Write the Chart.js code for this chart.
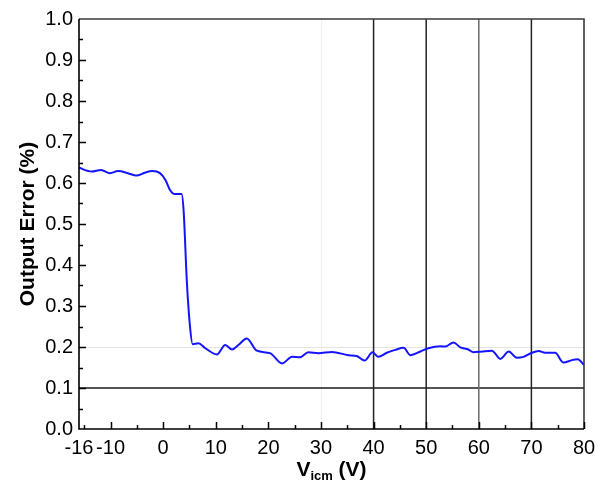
<!DOCTYPE html>
<html>
<head>
<meta charset="utf-8">
<script src="https://cdn.jsdelivr.net/npm/chart.js@4.4.0/dist/chart.umd.min.js"></script>
<style>
    html, body { margin: 0; padding: 0; background: #fff; }
    #wrap { width: 607px; height: 487px; position: relative; }
</style>
</head>
<body>
<div id="wrap"><canvas id="errChart" width="607" height="487"></canvas></div>
<script>
// measured curve (Vicm in V, output error in %)
const vicm = [-16, -13.6, -11.8, -10.1, -8.6, -6.7, -5.1, -3.5, -2.1, -0.6, 0.45, 1.3, 2.2, 3.5, 3.9, 4.5, 5.1, 5.6,
    6.7, 8.0, 10.2, 11.8, 13.1, 14.3, 15.9, 17.8, 20.3, 22.6, 24.5, 26.0, 27.6, 29.5, 32.1, 35.2, 36.8, 38.3, 39.8,
    40.9, 42.5, 44.1, 45.7, 47.0, 48.9, 50.4, 52.7, 53.6, 55.2, 56.5, 58.0, 59.0, 60.6, 62.5, 64.1, 65.7, 67.2, 68.5,
    70.1, 71.4, 72.6, 74.5, 76.1, 77.7, 78.8, 80];
const outputError = [0.637, 0.628, 0.632, 0.624, 0.629, 0.624, 0.618, 0.625, 0.629, 0.624, 0.607, 0.583, 0.573, 0.573,
    0.53, 0.36, 0.25, 0.207, 0.209, 0.197, 0.182, 0.205, 0.194, 0.205, 0.221, 0.191, 0.185, 0.160, 0.176, 0.175, 0.187,
    0.185, 0.188, 0.180, 0.178, 0.167, 0.187, 0.176, 0.186, 0.193, 0.198, 0.180, 0.189, 0.197, 0.202, 0.201, 0.211,
    0.199, 0.194, 0.187, 0.189, 0.191, 0.171, 0.189, 0.174, 0.176, 0.186, 0.190, 0.186, 0.186, 0.162, 0.168, 0.170, 0.156];

const xTicks = [-16, -10, 0, 10, 20, 30, 40, 50, 60, 70, 80];
const yTicks = [0, 0.1, 0.2, 0.3, 0.4, 0.5, 0.6, 0.7, 0.8, 0.9, 1.0];

// reference lines drawn over the plot
const markerX = [40, 50, 60, 70];
const markerY = [0.1];
const faintX = [30];
const faintY = [0.2];

let points = vicm.map((v, i) => ({ x: v, y: outputError[i] }));

// inward major/minor ticks on the left and bottom axes
function drawTickMarks(chart) {
    let ctx = chart.ctx;
    let a = chart.chartArea;
    let xs = chart.scales.x, ys = chart.scales.y;
    ctx.save();
    ctx.strokeStyle = "#000";
    ctx.lineWidth = 1.5;
    ctx.beginPath();
    for (let k = -3; k <= 16; k++) {
        let px = Math.round(xs.getPixelForValue(k * 5)) + 0.5;
        let len = (k % 2 === 0) ? 7 : 4;
        ctx.moveTo(px, a.bottom);
        ctx.lineTo(px, a.bottom - len);
    }
    for (let k = 1; k < 20; k++) {
        let py = Math.round(ys.getPixelForValue(k * 0.05)) + 0.5;
        let len = (k % 2 === 0) ? 7 : 4;
        ctx.moveTo(a.left, py);
        ctx.lineTo(a.left + len, py);
    }
    ctx.stroke();
    ctx.restore();
}

// frame, reference lines and axis titles
const decorPlugin = {
    id: "decor",
    beforeDatasetsDraw(chart) {
        let ctx = chart.ctx;
        let a = chart.chartArea;
        let xs = chart.scales.x, ys = chart.scales.y;
        ctx.save();
        ctx.lineWidth = 1;
        ctx.strokeStyle = "#e4e4e4";
        faintY.forEach(v => {
            let py = Math.round(ys.getPixelForValue(v)) + 0.5;
            ctx.beginPath(); ctx.moveTo(a.left, py); ctx.lineTo(a.right, py); ctx.stroke();
        });
        ctx.strokeStyle = "#f0f0f0";
        faintX.forEach(v => {
            let px = Math.round(xs.getPixelForValue(v)) + 0.5;
            ctx.beginPath(); ctx.moveTo(px, a.top); ctx.lineTo(px, a.bottom); ctx.stroke();
        });
        ctx.lineWidth = 1.5;
        ctx.strokeStyle = "#1a1a1a";
        markerY.forEach(v => {
            let py = ys.getPixelForValue(v);
            ctx.beginPath(); ctx.moveTo(a.left, py); ctx.lineTo(a.right, py); ctx.stroke();
        });
        markerX.forEach(v => {
            let px = xs.getPixelForValue(v);
            ctx.strokeStyle = v === 60 ? "#6a6a6a" : "#222";
            ctx.beginPath(); ctx.moveTo(px, a.top); ctx.lineTo(px, a.bottom); ctx.stroke();
        });
        ctx.restore();
    },
    afterDraw(chart) {
        let ctx = chart.ctx;
        let a = chart.chartArea;
        ctx.save();
        // frame
        ctx.lineWidth = 1.6;
        ctx.strokeStyle = "#3a3a3a";
        ctx.beginPath();
        ctx.moveTo(a.left, a.top); ctx.lineTo(a.right, a.top); ctx.lineTo(a.right, a.bottom);
        ctx.stroke();
        ctx.strokeStyle = "#000";
        ctx.beginPath();
        ctx.moveTo(a.left, a.top); ctx.lineTo(a.left, a.bottom); ctx.lineTo(a.right, a.bottom);
        ctx.stroke();
        ctx.restore();

        drawTickMarks(chart);

        ctx.save();
        // y title
        ctx.fillStyle = "#000";
        ctx.font = "bold 21px 'Liberation Sans', Arial, sans-serif";
        ctx.textAlign = "center";
        ctx.textBaseline = "alphabetic";
        ctx.translate(33.5, (a.top + a.bottom) / 2);
        ctx.rotate(-Math.PI / 2);
        ctx.fillText("Output Error (%)", 0, 0);
        ctx.setTransform(1, 0, 0, 1, 0, 0);

        // x title with subscript
        let big = "bold 21px 'Liberation Sans', Arial, sans-serif";
        let small = "bold 13px 'Liberation Sans', Arial, sans-serif";
        ctx.textAlign = "left";
        ctx.font = big; let w1 = ctx.measureText("V").width; let w3 = ctx.measureText(" (V)").width;
        ctx.font = small; let w2 = ctx.measureText("icm").width;
        let x0 = (a.left + a.right) / 2 - (w1 + w2 + w3) / 2;
        let base = 476;
        ctx.font = big; ctx.fillText("V", x0, base);
        ctx.font = small; ctx.fillText("icm", x0 + w1, base + 4);
        ctx.font = big; ctx.fillText(" (V)", x0 + w1 + w2, base);
        ctx.restore();
    }
};

new Chart(document.getElementById("errChart"), {
    type: "scatter",
    data: {
        datasets: [{
            label: "Output Error",
            data: points,
            showLine: true,
            borderColor: "#1414ff",
            borderWidth: 2,
            pointRadius: 0,
            cubicInterpolationMode: "monotone",
            fill: false
        }]
    },
    options: {
        responsive: false,
        animation: false,
        layout: { padding: { left: 0, right: 23, top: 19, bottom: 0 } },
        plugins: { legend: { display: false }, tooltip: { enabled: false } },
        scales: {
            x: {
                type: "linear",
                min: -16,
                max: 80,
                grid: { display: false, drawTicks: false },
                border: { display: false },
                afterBuildTicks: scale => { scale.ticks = xTicks.map(v => ({ value: v })); },
                afterFit: scale => { scale.height = 58; },
                ticks: {
                    autoSkip: false,
                    maxRotation: 0,
                    padding: 7,
                    color: "#000",
                    font: { family: "'Liberation Sans', Arial, sans-serif", size: 20 },
                    callback: v => String(v)
                }
            },
            y: {
                min: 0,
                max: 1,
                grid: { display: false, drawTicks: false },
                border: { display: false },
                afterBuildTicks: scale => { scale.ticks = yTicks.map(v => ({ value: v })); },
                afterFit: scale => { scale.width = 79; },
                ticks: {
                    autoSkip: false,
                    padding: 6,
                    color: "#000",
                    font: { family: "'Liberation Sans', Arial, sans-serif", size: 20 },
                    callback: v => Number(v).toFixed(1)
                }
            }
        }
    },
    plugins: [decorPlugin]
});
</script>
</body>
</html>
